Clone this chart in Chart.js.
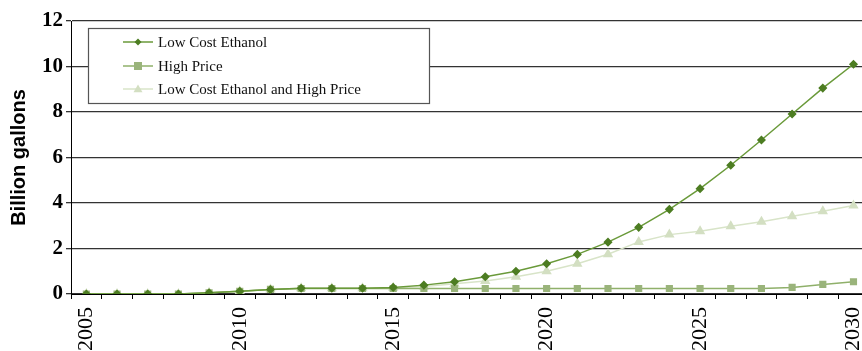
<!DOCTYPE html>
<html lang="en">
<head>
    <title>Billion gallons</title>
    <meta charset="utf-8" />
    <script src="https://cdn.jsdelivr.net/npm/chart.js"></script>
    <style>
        html, body { margin: 0; padding: 0; background: #fff; overflow: hidden; }
        #wrap { width: 888px; height: 351px; }
    </style>
</head>
<body>
    <div id="wrap"><canvas id="myChart" width="888" height="351"></canvas></div>
    <script>
        // Data
        var years = ['2005', '2006', '2007', '2008', '2009', '2010', '2011', '2012', '2013', '2014',
            '2015', '2016', '2017', '2018', '2019', '2020', '2021', '2022', '2023', '2024',
            '2025', '2026', '2027', '2028', '2029', '2030'];
        var lowCostEthanol = [0, 0, 0, 0, 0.05, 0.12, 0.2, 0.25, 0.25, 0.25,
            0.29, 0.39, 0.54, 0.76, 1.0, 1.33, 1.74, 2.28, 2.93, 3.72,
            4.63, 5.66, 6.77, 7.91, 9.05, 10.1];
        var highPrice = [0, 0, 0, 0, 0.05, 0.12, 0.2, 0.24, 0.24, 0.24,
            0.24, 0.24, 0.24, 0.24, 0.24, 0.24, 0.24, 0.24, 0.24, 0.24,
            0.24, 0.24, 0.24, 0.29, 0.42, 0.54];
        var lowCostHighPrice = [0, 0, 0, 0, 0.05, 0.12, 0.2, 0.25, 0.25, 0.25,
            0.27, 0.33, 0.45, 0.57, 0.76, 1.0, 1.33, 1.75, 2.29, 2.61,
            2.76, 2.98, 3.18, 3.42, 3.64, 3.89];
        var yTicks = [0, 2, 4, 6, 8, 10, 12];

        // legend drawn inside the plot, as in the original
        var boxLegend = {
            id: 'boxLegend',
            afterDraw: function (chart) {
                var ctx = chart.ctx;
                ctx.save();
                ctx.fillStyle = '#fff';
                ctx.fillRect(88, 28, 341, 75);
                ctx.strokeStyle = '#555';
                ctx.lineWidth = 1.2;
                ctx.strokeRect(88.5, 28.5, 341, 75);
                var rows = [42, 66, 89];
                chart.data.datasets.forEach(function (ds, i) {
                    var y = rows[i];
                    ctx.strokeStyle = ds.borderColor;
                    ctx.lineWidth = 1.5;
                    ctx.beginPath();
                    ctx.moveTo(123, y);
                    ctx.lineTo(153, y);
                    ctx.stroke();
                    ctx.fillStyle = ds.pointBackgroundColor;
                    ctx.beginPath();
                    drawMarker(ctx, ds.pointStyle, ds.pointRadius, 138, y);
                    ctx.fill();
                    ctx.fillStyle = '#111';
                    ctx.font = '15px "Liberation Serif"';
                    ctx.textBaseline = 'middle';
                    ctx.fillText(ds.label, 158, y + 1);
                });
                ctx.restore();
            }
        };

        function drawMarker(ctx, style, r, x, y) {
            if (style === 'rect') {
                ctx.rect(x - r, y - r, 2 * r, 2 * r);
            } else if (style === 'triangle') {
                ctx.moveTo(x, y - r);
                ctx.lineTo(x + r, y + r * 0.7);
                ctx.lineTo(x - r, y + r * 0.7);
                ctx.closePath();
            } else {
                ctx.moveTo(x, y - r);
                ctx.lineTo(x + r, y);
                ctx.lineTo(x, y + r);
                ctx.lineTo(x - r, y);
                ctx.closePath();
            }
        }

        const ctx = document.getElementById('myChart').getContext('2d');
        new Chart(ctx, {
            type: 'line',
            data: {
                labels: years,
                datasets: [
                    {
                        label: 'Low Cost Ethanol',
                        data: lowCostEthanol,
                        borderColor: '#6a9a3a',
                        backgroundColor: '#4d7d22',
                        pointBackgroundColor: '#4d7d22',
                        pointBorderColor: '#4d7d22',
                        pointStyle: 'rectRot',
                        pointRadius: 3.5,
                        borderWidth: 1.5,
                        order: 1
                    },
                    {
                        label: 'High Price',
                        data: highPrice,
                        borderColor: '#8fb06a',
                        backgroundColor: '#9ab47b',
                        pointBackgroundColor: '#9ab47b',
                        pointBorderColor: '#9ab47b',
                        pointStyle: 'rect',
                        pointRadius: 4,
                        borderWidth: 1.5,
                        order: 2
                    },
                    {
                        label: 'Low Cost Ethanol and High Price',
                        data: lowCostHighPrice,
                        borderColor: '#d8e4c8',
                        backgroundColor: '#d3dfc2',
                        pointBackgroundColor: '#d3dfc2',
                        pointBorderColor: '#d3dfc2',
                        pointStyle: 'triangle',
                        pointRadius: 4.5,
                        borderWidth: 1.5,
                        order: 3
                    }
                ]
            },
            options: {
                responsive: false,
                animation: false,
                layout: { padding: { top: 21, right: 0, left: 0, bottom: 0 } },
                plugins: {
                    legend: { display: false },
                    tooltip: { enabled: false }
                },
                scales: {
                    x: {
                        offset: true,
                        grid: { offset: true, drawOnChartArea: false, drawTicks: true, tickLength: 5, color: '#000' },
                        border: { color: '#000', width: 1 },
                        ticks: {
                            autoSkip: false,
                            maxRotation: 90,
                            minRotation: 90,
                            padding: 8,
                            color: '#000',
                            font: { family: '"Liberation Serif"', size: 22 },
                            callback: function (v, i) {
                                var y = years[i];
                                return (+y) % 5 === 0 ? y : '';
                            }
                        },
                        afterFit: function (s) { s.height = 57; }
                    },
                    y: {
                        min: 0,
                        max: 12,
                        afterBuildTicks: function (s) {
                            s.ticks = yTicks.map(function (v) { return { value: v }; });
                        },
                        grid: { color: '#333', lineWidth: 1.3, tickLength: 5 },
                        border: { color: '#000', width: 1 },
                        ticks: {
                            padding: 3,
                            color: '#000',
                            font: { family: '"Liberation Serif"', size: 21, weight: 'bold' }
                        },
                        title: {
                            display: true,
                            text: 'Billion gallons',
                            color: '#000',
                            padding: { top: 7, bottom: 4 },
                            font: { family: '"Liberation Sans"', size: 20, weight: 'bold' }
                        },
                        afterFit: function (s) { s.width = 71; }
                    }
                }
            },
            plugins: [boxLegend]
        });
    </script>
</body>
</html>
